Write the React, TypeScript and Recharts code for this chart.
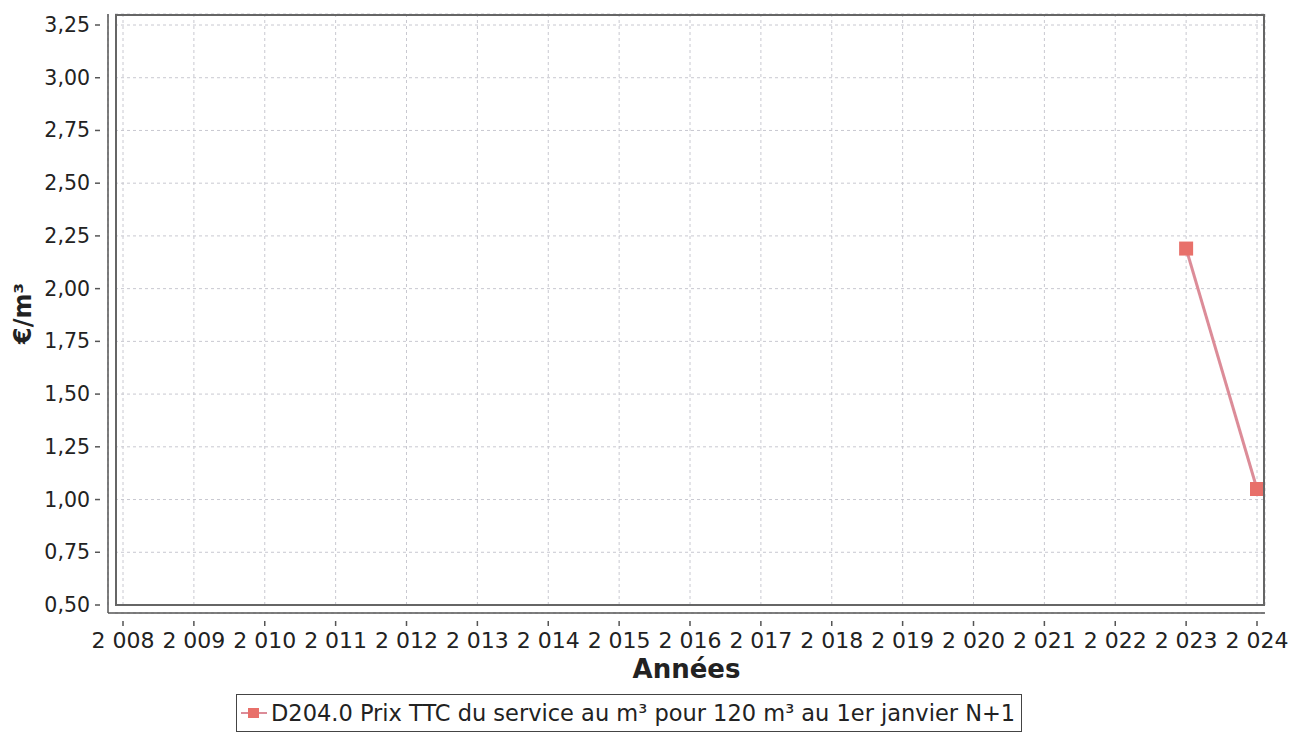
import React from "react";
import {
  LineChart,
  Line,
  XAxis,
  YAxis,
  CartesianGrid,
  Legend,
} from "recharts";

const years = [2008, 2009, 2010, 2011, 2012, 2013, 2014, 2015, 2016, 2017, 2018, 2019, 2020, 2021, 2022, 2023, 2024];
const prixTTC: (number | null)[] = [null, null, null, null, null, null, null, null, null, null, null, null, null, null, null, 2.19, 1.05];
const yTicks = [0.5, 0.75, 1, 1.25, 1.5, 1.75, 2, 2.25, 2.5, 2.75, 3, 3.25];
const seriesName = "D204.0 Prix TTC du service au m³ pour 120 m³ au 1er janvier N+1";

const data = years.map((y, i) => ({ year: y, prix: prixTTC[i] }));

const FONT = "'DejaVu Sans', sans-serif";
const LINE_COLOR = "#dc8c98";
const MARKER_COLOR = "#e8706a";
const GRID = "#c8c8d0";

const fmtYear = (v: number) => {
  const s = String(v);
  return s.slice(0, 1) + " " + s.slice(1);
};
const fmtY = (v: number) => v.toFixed(2).replace(".", ",");

function XTick(props: any) {
  const { x, y, payload } = props;
  return (
    <g>
      <line x1={x} x2={x} y1={y} y2={y + 5} stroke="#555" strokeWidth={1.5} />
      <text x={x} y={y + 27} textAnchor="middle" fontFamily={FONT} fontSize={22} fill="#222">
        {fmtYear(payload.value)}
      </text>
    </g>
  );
}

function YTick(props: any) {
  const { x, y, payload } = props;
  return (
    <g>
      <line x1={x - 5} x2={x} y1={y} y2={y} stroke="#555" strokeWidth={1.5} />
      <text x={x - 10} y={y + 7} textAnchor="end" fontFamily={FONT} fontSize={20.5} fill="#222">
        {fmtY(payload.value)}
      </text>
    </g>
  );
}

function Square(props: any) {
  const { cx, cy, value } = props;
  if (value == null || cx == null) return null;
  return <rect x={cx - 7} y={cy - 7} width={14} height={14} fill={MARKER_COLOR} />;
}

function LegendBox() {
  return (
    <div
      style={{
        display: "inline-flex",
        alignItems: "center",
        border: "1.5px solid #444",
        height: 36,
        padding: "0 6px 0 4px",
        fontFamily: FONT,
        fontSize: 22.5,
        color: "#222",
        whiteSpace: "nowrap",
      }}
    >
      <svg width={26} height={14} style={{ marginRight: 4 }}>
        <line x1={0} x2={26} y1={7} y2={7} stroke={LINE_COLOR} strokeWidth={2} />
        <rect x={7} y={2} width={11} height={10} fill={MARKER_COLOR} />
      </svg>
      {seriesName}
    </div>
  );
}

export default function App() {
  return (
    <div style={{ position: "relative", width: 1292, height: 731 }}>
      <LineChart
        width={1292}
        height={731}
        data={data}
        margin={{ top: 6, right: 35, left: 0, bottom: 3 }}
      >
        <CartesianGrid
          stroke={GRID}
          strokeDasharray="3 3"
          x={107}
          y={6}
          width={1150}
          height={592}
        />
        <XAxis
          dataKey="year"
          type="number"
          domain={[2008, 2024]}
          ticks={years}
          interval={0}
          padding={{ left: 15, right: 8 }}
          height={81}
          axisLine={{ stroke: "#555", strokeWidth: 1.5 }}
          tickLine={false}
          tick={<XTick />}
          label={{
            value: "Années",
            position: "insideBottom",
            offset: 16,
            style: { fontFamily: FONT, fontSize: 26, fontWeight: "bold", fill: "#222" },
          }}
        />
        <YAxis
          type="number"
          domain={[0.5, 3.25]}
          ticks={yTicks}
          interval={0}
          padding={{ top: 11, bottom: 8 }}
          width={100}
          axisLine={{ stroke: "#555", strokeWidth: 1.5 }}
          tickLine={false}
          tick={<YTick />}
          label={{
            value: "€/m³",
            angle: -90,
            position: "insideLeft",
            offset: 14,
            style: { fontFamily: FONT, fontSize: 24, fontWeight: "bold", fill: "#222", textAnchor: "middle" },
          }}
        />
        <Legend
          verticalAlign="bottom"
          height={42}
          content={<LegendBox />}
          wrapperStyle={{ left: 228, width: "auto", textAlign: "left" }}
        />
        <Line
          type="linear"
          dataKey="prix"
          name={seriesName}
          stroke={LINE_COLOR}
          strokeWidth={3}
          dot={<Square />}
          activeDot={false}
          connectNulls={false}
          isAnimationActive={false}
        />
      </LineChart>
      <div
        style={{
          position: "absolute",
          left: 107,
          top: 6,
          width: 1150,
          height: 592,
          border: "2px solid #666",
          boxSizing: "border-box",
          pointerEvents: "none",
        }}
      />
    </div>
  );
}
